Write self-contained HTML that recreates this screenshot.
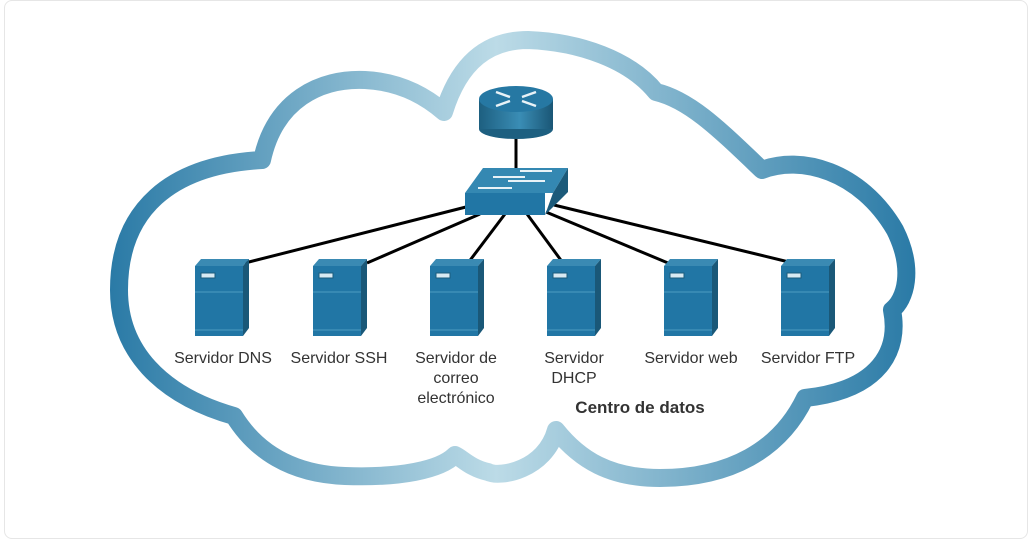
<!DOCTYPE html>
<html><head><meta charset="utf-8"><style>
html,body{margin:0;padding:0;background:#fff;}
body{width:1034px;height:539px;overflow:hidden;position:relative;font-family:"Liberation Sans",sans-serif;}
.frame{position:absolute;left:4px;top:0;width:1024px;height:539px;border:1px solid #e6e6e6;border-radius:8px;box-sizing:border-box;}
</style></head><body>
<div class="frame"></div>
<svg width="1034" height="539" style="position:absolute;left:0;top:0">
<defs>
<linearGradient id="cg" x1="110" y1="0" x2="915" y2="0" gradientUnits="userSpaceOnUse">
<stop offset="0" stop-color="#2a7aa6"/><stop offset="0.48" stop-color="#bcdbe7"/><stop offset="1" stop-color="#2a7aa6"/>
</linearGradient>
<linearGradient id="rg" x1="0" x2="1" y1="0" y2="0">
<stop offset="0" stop-color="#1d5f80"/><stop offset="0.55" stop-color="#3a8db5"/><stop offset="1" stop-color="#1a5675"/>
</linearGradient>
<g id="srv">
<polygon points="0,4 6,-3 54,-3 48,4" fill="#3a8ab3"/>
<polygon points="48,4 54,-3 54,66 48,74" fill="#1a5878"/>
<rect x="0" y="4" width="48" height="70" fill="#2176a5"/>
<line x1="0" y1="30" x2="48" y2="30" stroke="#3f8fb8" stroke-width="1.5"/>
<line x1="0" y1="68" x2="48" y2="68" stroke="#3f8fb8" stroke-width="1.5"/>
<rect x="6" y="11" width="14" height="5" fill="#d8eaf3" stroke="#1b5c7d" stroke-width="1"/>
</g>
</defs>
<path d="M119,290 C119,210 170,165 262,160 C275,100 320,78 365,80 C405,82 430,100 444,112 C460,60 490,40 528,40 C580,42 630,60 656,92 C690,100 720,130 762,170 C800,155 860,170 895,230 C915,270 905,300 892,310 C900,350 880,390 805,398 C780,450 730,478 660,478 C610,478 580,460 556,430 C545,470 500,478 488,472 C470,468 462,458 455,455 C440,470 400,478 345,476 C290,474 255,450 234,416 C160,395 119,350 119,290 Z" fill="none" stroke="url(#cg)" stroke-width="18" stroke-linejoin="round"/>
<g stroke="#000" stroke-width="3">
<line x1="516" y1="138" x2="516" y2="170"/>
<line x1="466" y1="207" x2="245" y2="263"/>
<line x1="480" y1="214" x2="367" y2="263"/>
<line x1="505" y1="214" x2="468" y2="263"/>
<line x1="527" y1="214" x2="563" y2="263"/>
<line x1="546" y1="212" x2="668" y2="263"/>
<line x1="554" y1="205" x2="793" y2="263"/>
</g>
<!-- router -->
<ellipse cx="516" cy="129" rx="37" ry="10" fill="#1d5f80"/>
<rect x="479" y="99" width="74" height="30" fill="url(#rg)"/>
<ellipse cx="516" cy="99" rx="37" ry="13" fill="#2678a3"/>
<g stroke="#e8f2f7" stroke-width="2.5" fill="#e8f2f7">
<line x1="496" y1="92" x2="510" y2="97"/><line x1="536" y1="92" x2="522" y2="97"/>
<line x1="496" y1="106" x2="510" y2="101"/><line x1="536" y1="106" x2="522" y2="101"/>
</g>
<!-- switch -->
<polygon points="465,193 483,168 568,168 553,193" fill="#3488b2"/>
<polygon points="553,193 568,168 568,192 545,215" fill="#1b5a7a"/>
<rect x="465" y="193" width="80" height="22" fill="#2176a5"/>
<g stroke="#e8f2f7" stroke-width="2">
<line x1="520" y1="171" x2="552" y2="171"/><line x1="493" y1="177" x2="525" y2="177"/>
<line x1="508" y1="181" x2="545" y2="181"/><line x1="478" y1="188" x2="512" y2="188"/>
</g>
<use href="#srv" x="195" y="262"/>
<use href="#srv" x="313" y="262"/>
<use href="#srv" x="430" y="262"/>
<use href="#srv" x="547" y="262"/>
<use href="#srv" x="664" y="262"/>
<use href="#srv" x="781" y="262"/>
<g font-family="Liberation Sans, sans-serif" font-size="16" fill="#333" text-anchor="middle">
<text x="223" y="363">Servidor DNS</text>
<text x="339" y="363">Servidor SSH</text>
<text x="456" y="363">Servidor de</text>
<text x="456" y="383">correo</text>
<text x="456" y="403">electrónico</text>
<text x="574" y="363">Servidor</text>
<text x="574" y="383">DHCP</text>
<text x="691" y="363">Servidor web</text>
<text x="808" y="363">Servidor FTP</text>
<text x="640" y="413" font-weight="bold" font-size="17">Centro de datos</text>
</g>
</svg>
</body></html>
